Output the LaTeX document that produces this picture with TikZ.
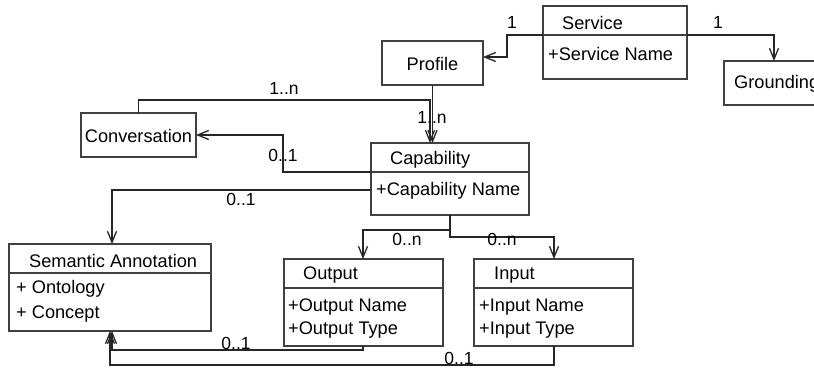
\documentclass[tikz,border=0pt]{standalone}
\usepackage{fontspec}
\setmainfont{Liberation Sans}
\usetikzlibrary{arrows.meta}
\begin{document}
\begin{tikzpicture}[x=1pt,y=-1pt,
  box/.style={draw=black!75, line width=1.1pt, rectangle, anchor=north west, inner sep=0pt, outer sep=0pt},
  txt/.style={font=\fontsize{18.2}{21}\selectfont, inner sep=0pt, text=black},
  lab/.style={font=\fontsize{17.5}{20}\selectfont, inner sep=0pt, text=black},
  assoc/.style={draw=black!85, line width=1.2pt, -{Straight Barb[length=11pt,width=9pt,line width=1.3pt]}},
  divider/.style={draw=black!75, line width=1.1pt}]
\useasboundingbox (0,0) rectangle (814,368);
% boxes
\node[box, minimum width=144pt, minimum height=73pt] (svc) at (543,6) {};
\node[box, minimum width=101pt, minimum height=44pt] (prof) at (382,41) {};
\node[box, minimum width=100pt, minimum height=44pt] (gr) at (724,61) {};
\node[box, minimum width=115pt, minimum height=44pt] (conv) at (81,113) {};
\node[box, minimum width=158pt, minimum height=72pt] (cap) at (371,143) {};
\node[box, minimum width=202pt, minimum height=87pt] (sem) at (9,244) {};
\node[box, minimum width=159pt, minimum height=87pt] (out) at (284,259) {};
\node[box, minimum width=159pt, minimum height=87pt] (in) at (474,259) {};
% dividers
\draw[divider] ([yshift=-29pt]svc.north west) -- ([yshift=-29pt]svc.north east);
\draw[divider] ([yshift=-29pt]cap.north west) -- ([yshift=-29pt]cap.north east);
\draw[divider] ([yshift=-29pt]sem.north west) -- ([yshift=-29pt]sem.north east);
\draw[divider] ([yshift=-29pt]out.north west) -- ([yshift=-29pt]out.north east);
\draw[divider] ([yshift=-29pt]in.north west) -- ([yshift=-29pt]in.north east);
% texts
\node[txt, anchor=west] (svct) at ([xshift=19pt,yshift=-16.5pt]svc.north west) {Service};
\node[txt, anchor=west] (svca) at ([xshift=5pt,yshift=-48pt]svc.north west) {+Service Name};
\node[txt] (proft) at ([yshift=-1pt]prof.center) {Profile};
\node[txt, anchor=west] (grt) at ([xshift=10pt,yshift=-1pt]gr.west) {Grounding};
\node[txt] (convt) at ([yshift=-1pt]conv.center) {Conversation};
\node[txt, anchor=west] (capt) at ([xshift=19pt,yshift=-16.5pt]cap.north west) {Capability};
\node[txt, anchor=west] (capa) at ([xshift=5pt,yshift=-48pt]cap.north west) {+Capability Name};
\node[txt, anchor=west] (semt) at ([xshift=20pt,yshift=-17pt]sem.north west) {Semantic Annotation};
\node[txt, anchor=west] (sema) at ([xshift=7pt,yshift=-45pt]sem.north west) {+ Ontology};
\node[txt, anchor=west] (semb) at ([xshift=7pt,yshift=-70pt]sem.north west) {+ Concept};
\node[txt, anchor=west] (outt) at ([xshift=19pt,yshift=-16pt]out.north west) {Output};
\node[txt, anchor=west] (outa) at ([xshift=4pt,yshift=-48pt]out.north west) {+Output Name};
\node[txt, anchor=west] (outb) at ([xshift=4pt,yshift=-71pt]out.north west) {+Output Type};
\node[txt, anchor=west] (int) at ([xshift=20pt,yshift=-16pt]in.north west) {Input};
\node[txt, anchor=west] (ina) at ([xshift=5pt,yshift=-48pt]in.north west) {+Input Name};
\node[txt, anchor=west] (inb) at ([xshift=5pt,yshift=-71pt]in.north west) {+Input Type};
% bend coordinates
\coordinate (c1) at (507,35);
\coordinate (c4) at (430,100);
\coordinate (c5) at (283,172);
\coordinate (c7) at (363,230);
\coordinate (c8) at (554,237);
\coordinate (c9) at (112,350);
\coordinate (c10) at (110,365);
% connectors
\draw[assoc] ([yshift=-29pt]svc.north west) -- (c1) |- ([yshift=6pt]prof.east);
\draw[assoc] ([yshift=-29pt]svc.north east) -| (gr.north);
\draw[assoc] (prof.south) -- (prof.south |- cap.north);
\draw[assoc] (conv.north) |- (c4) -- (c4 |- cap.north);
\draw[assoc] ([yshift=-29pt]cap.north west) -- (c5) |- (conv.east);
\draw[assoc] ([yshift=-47pt]cap.north west) -| ([xshift=2pt]sem.north);
\draw[assoc] (cap.south) |- (c7) -- (c7 |- out.north);
\draw[assoc] (cap.south) |- (c8) -- (c8 |- in.north);
\draw[assoc] (c7 |- out.south) |- (c9) -- (c9 |- sem.south);
\draw[assoc] (c8 |- in.south) |- (c10) -- (c10 |- sem.south);
% labels
\node[lab] (l1) at (512,22) {1};
\node[lab] (l2) at (718,22) {1};
\node[lab] (l3) at (284,88) {1..n};
\node[lab] (l4) at (432,117) {1..n};
\node[lab] (l5) at (283,155) {0..1};
\node[lab] (l6) at (241,199) {0..1};
\node[lab] (l7) at (407,239) {0..n};
\node[lab] (l8) at (502,239) {0..n};
\node[lab] (l9) at (236,343) {0..1};
\node[lab] (l10) at (459,358) {0..1};
\end{tikzpicture}
\end{document}
